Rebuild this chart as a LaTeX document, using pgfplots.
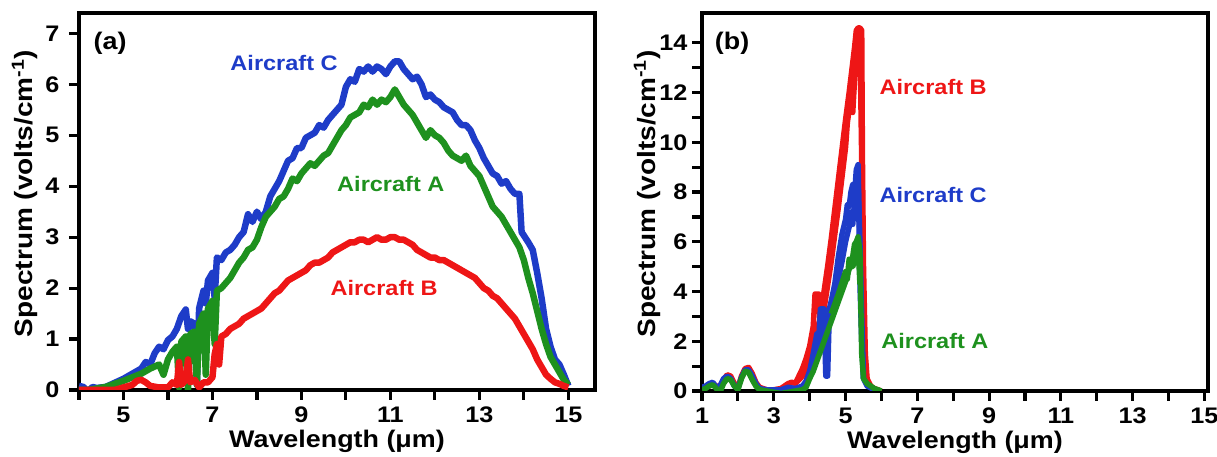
\documentclass[border=0pt]{standalone}
\usepackage{pgfplots}
\pgfplotsset{compat=1.18}
\usepackage{fontspec}
\setmainfont{Liberation Sans}[FakeStretch=1.12]

\definecolor{blueC}{RGB}{30,60,200}
\definecolor{greenA}{RGB}{30,145,30}
\definecolor{redB}{RGB}{238,22,22}

\tikzset{lab/.style={font=\fontsize{21}{21}\selectfont\bfseries},
  panel/.style={font=\fontsize{24}{24}\selectfont\bfseries}}
\pgfplotsset{
  spec/.style={
    scale only axis,
    axis line style={line width=3.6pt, line join=miter},
    tick align=outside,
    xtick pos=left, ytick pos=left,
    major tick length=10pt, minor tick length=10pt,
    every tick/.style={black, line width=3.2pt},
    /pgf/number format/assume math mode=true,
    tick label style={font=\fontsize{22.5}{22.5}\selectfont\bfseries},
    xlabel style={font=\fontsize{24}{24}\selectfont\bfseries,
      at={(axis description cs:0.5,0)}, anchor=base, yshift=-58pt},
    ylabel style={font=\fontsize{25}{25}\selectfont\bfseries,
      at={(axis description cs:0,0.5)}, anchor=base, yshift=46pt, xshift=8pt},
    xlabel={Wavelength (μm)},
    ylabel={Spectrum (volts/cm\textsuperscript{-1})},
    clip=true,
  },
  trace/.style={line width=6.5pt, line join=round, mark=none},
  traceb/.style={line width=5.5pt, line join=round, mark=none},
}

\begin{document}
\begin{tikzpicture}[x=1pt,y=1pt]
\path[use as bounding box] (0,0) rectangle (1217,457);

% ---------------- panel (a)
\begin{axis}[spec,
  at={(79pt,67pt)}, anchor=south west,
  width=516pt, height=377pt,
  xmin=4, xmax=15.6, ymin=0, ymax=7.4,
  xtick={5,7,...,15}, minor xtick={4,6,...,14},
  ytick={0,1,...,7},
  yticklabel style={xshift=-6pt},
  xticklabel style={yshift=-3pt},
]
% Aircraft C
\addplot[trace, blueC] coordinates {
(4.0,0.08) (4.1,0.06) (4.2,-0.04) (4.3,0.06) (4.4,0.04) (4.6,0.06) (4.8,0.14)
(5.0,0.22) (5.2,0.32) (5.4,0.42) (5.5,0.55) (5.6,0.5) (5.7,0.72) (5.8,0.85)
(5.9,0.8) (6.0,0.98) (6.1,1.05) (6.2,1.2) (6.3,1.45) (6.4,1.58) (6.45,1.2)
(6.5,1.35) (6.6,1.3) (6.65,0.1) (6.7,1.6) (6.8,1.95) (6.85,1.7) (6.9,2.15)
(7.0,2.3) (7.05,1.8) (7.1,2.6) (7.2,2.55) (7.3,2.7) (7.4,2.75) (7.5,2.85)
(7.6,3.0) (7.7,3.1) (7.8,3.45) (7.9,3.3) (8.0,3.5) (8.1,3.35) (8.2,3.5)
(8.3,3.8) (8.4,3.95) (8.5,4.1) (8.6,4.3) (8.7,4.5) (8.8,4.55) (8.9,4.75)
(9.0,4.75) (9.1,4.95) (9.2,5.0) (9.3,5.05) (9.4,5.2) (9.5,5.15) (9.6,5.3)
(9.7,5.4) (9.8,5.5) (9.9,5.6) (10.0,5.95) (10.1,6.1) (10.2,6.05) (10.3,6.3)
(10.4,6.25) (10.5,6.35) (10.6,6.25) (10.7,6.35) (10.8,6.3) (10.9,6.2)
(11.0,6.35) (11.1,6.45) (11.2,6.45) (11.3,6.3) (11.4,6.2) (11.5,6.1)
(11.6,6.15) (11.7,6.0) (11.8,5.75) (11.9,5.8) (12.0,5.7) (12.1,5.65)
(12.2,5.55) (12.3,5.5) (12.4,5.45) (12.5,5.3) (12.6,5.2) (12.7,5.2)
(12.8,5.1) (12.9,4.9) (13.0,4.75) (13.1,4.55) (13.2,4.4) (13.3,4.25)
(13.4,4.2) (13.5,4.05) (13.6,4.1) (13.7,3.95) (13.8,3.85) (13.9,3.85)
(13.95,3.1) (14.1,2.9) (14.2,2.75) (14.3,2.3) (14.4,1.8) (14.5,1.2)
(14.6,0.85) (14.7,0.6) (14.8,0.5) (14.9,0.3) (15.0,0.08)
};
% Aircraft A
\addplot[trace, greenA] coordinates {
(4.0,0.0) (4.2,0.0) (4.4,0.03) (4.6,0.06) (4.8,0.12) (5.0,0.18) (5.2,0.25)
(5.4,0.32) (5.6,0.42) (5.8,0.5) (5.9,0.3) (6.0,0.6) (6.1,0.75) (6.2,0.85)
(6.25,0.05) (6.3,0.95) (6.4,1.05) (6.45,0.0) (6.5,1.1) (6.6,1.15) (6.65,0.1)
(6.7,1.3) (6.8,1.5) (6.85,0.3) (6.9,1.6) (7.0,1.75) (7.05,0.9) (7.1,1.95)
(7.2,2.0) (7.3,2.1) (7.4,2.2) (7.5,2.35) (7.6,2.5) (7.7,2.6) (7.8,2.75)
(7.9,2.8) (8.0,2.95) (8.1,3.2) (8.2,3.4) (8.3,3.5) (8.4,3.6) (8.5,3.75)
(8.6,3.8) (8.7,3.95) (8.8,4.15) (8.9,4.1) (9.0,4.25) (9.1,4.35) (9.2,4.45)
(9.3,4.4) (9.4,4.5) (9.5,4.6) (9.6,4.65) (9.7,4.8) (9.8,4.95) (9.9,5.1)
(10.0,5.2) (10.1,5.35) (10.2,5.4) (10.3,5.45) (10.4,5.6) (10.5,5.55)
(10.6,5.7) (10.7,5.6) (10.8,5.7) (10.9,5.65) (11.0,5.75) (11.1,5.9)
(11.2,5.75) (11.3,5.6) (11.4,5.5) (11.5,5.4) (11.6,5.25) (11.7,5.1)
(11.8,4.95) (11.9,5.1) (12.0,5.0) (12.1,4.95) (12.2,4.85) (12.3,4.7)
(12.4,4.6) (12.5,4.55) (12.6,4.5) (12.7,4.6) (12.8,4.4) (12.9,4.3)
(13.0,4.2) (13.1,4.0) (13.2,3.8) (13.3,3.6) (13.4,3.5) (13.5,3.4)
(13.6,3.25) (13.7,3.1) (13.8,2.95) (13.9,2.8) (14.0,2.55) (14.1,2.2)
(14.2,1.9) (14.3,1.55) (14.4,1.2) (14.5,0.9) (14.6,0.65) (14.7,0.5)
(14.8,0.35) (14.9,0.2) (15.0,0.1)
};
% Aircraft B
\addplot[trace, redB] coordinates {
(4.0,0.0) (4.4,0.0) (4.8,0.0) (5.0,0.05) (5.2,0.1) (5.3,0.18) (5.4,0.2)
(5.5,0.15) (5.6,0.08) (5.8,0.05) (6.0,0.05) (6.1,0.15) (6.2,0.1) (6.25,0.55)
(6.3,0.1) (6.4,0.2) (6.45,0.6) (6.5,0.15) (6.6,0.2) (6.7,0.05) (6.8,0.15)
(6.9,0.15) (7.0,0.25) (7.05,0.7) (7.1,0.9) (7.15,0.5) (7.2,1.05) (7.3,1.1)
(7.4,1.2) (7.5,1.25) (7.6,1.3) (7.7,1.4) (7.8,1.45) (7.9,1.5) (8.0,1.55)
(8.1,1.6) (8.2,1.7) (8.3,1.8) (8.4,1.9) (8.5,1.95) (8.6,2.05) (8.7,2.15)
(8.8,2.2) (8.9,2.25) (9.0,2.3) (9.1,2.35) (9.2,2.45) (9.3,2.5) (9.4,2.5)
(9.5,2.55) (9.6,2.6) (9.7,2.7) (9.8,2.75) (9.9,2.8) (10.0,2.85) (10.1,2.9)
(10.2,2.9) (10.3,2.95) (10.4,2.95) (10.5,2.9) (10.6,2.95) (10.7,3.0)
(10.8,2.95) (10.9,2.95) (11.0,3.0) (11.1,3.0) (11.2,2.95) (11.3,2.95)
(11.4,2.9) (11.5,2.85) (11.6,2.75) (11.7,2.7) (11.8,2.65) (11.9,2.6)
(12.0,2.6) (12.1,2.55) (12.2,2.55) (12.3,2.5) (12.4,2.45) (12.5,2.4)
(12.6,2.35) (12.7,2.3) (12.8,2.25) (12.9,2.2) (13.0,2.1) (13.1,2.0)
(13.2,1.95) (13.3,1.85) (13.4,1.8) (13.5,1.7) (13.6,1.6) (13.7,1.5)
(13.8,1.4) (13.9,1.25) (14.0,1.1) (14.1,0.95) (14.2,0.8) (14.3,0.6)
(14.4,0.45) (14.5,0.3) (14.6,0.22) (14.7,0.15) (14.8,0.12) (14.9,0.08)
(15.0,0.05)
};
\node[panel] at (axis cs:4.70,6.81) {(a)};
\node[lab, blueC] at (axis cs:8.61,6.42) {Aircraft C};
\node[lab, greenA] at (axis cs:11.01,4.04) {Aircraft A};
\node[lab, redB] at (axis cs:10.86,2.00) {Aircraft B};
\end{axis}

% ---------------- panel (b)
\begin{axis}[spec,
  at={(702pt,66pt)}, anchor=south west,
  width=506pt, height=378pt,
  xmin=1, xmax=15.1, ymin=0, ymax=15.2,
  xtick={1,3,...,15}, minor xtick={2,4,...,14},
  ytick={0,2,...,14}, minor ytick={1,3,...,13},
  yticklabel style={xshift=-1pt},
  xticklabel style={yshift=-3pt},
  ylabel style={yshift=1pt},
]
% Aircraft B
\addplot[traceb, redB] coordinates {
(1.0,0.1) (1.1,0.15) (1.2,0.2) (1.3,0.3) (1.4,0.2) (1.5,0.15) (1.6,0.45)
(1.7,0.65) (1.8,0.6) (1.9,0.3) (2.0,0.1) (2.1,0.6) (2.2,0.9) (2.3,0.95)
(2.4,0.7) (2.5,0.35) (2.6,0.15) (2.8,0.05) (3.0,0.05) (3.2,0.1) (3.3,0.2)
(3.4,0.3) (3.5,0.35) (3.6,0.3) (3.7,0.6) (3.8,0.9) (3.9,1.3) (4.0,1.8)
(4.1,2.6) (4.15,3.9) (4.25,3.9) (4.3,2.6) (4.4,4.0) (4.5,5.0) (4.6,6.1)
(4.7,7.3) (4.8,8.5) (4.9,9.7) (5.0,10.9) (5.1,12.0) (5.2,13.2) (5.25,13.8)
(5.3,14.5) (5.35,14.6) (5.4,14.6) (5.45,14.5) (5.47,9.4) (5.5,5.0)
(5.55,1.5) (5.6,0.5) (5.7,0.2) (5.8,0.1) (5.9,0.05) (6.0,0.0)
};
\addplot[traceb, redB] coordinates {
(3.6,0.3) (3.8,0.6) (4.0,1.2) (4.2,2.5) (4.4,3.3) (4.6,5.2) (4.8,7.4)
(5.0,9.8) (5.05,10.8) (5.1,11.3) (5.15,11.8) (5.2,11.2) (5.25,12.5)
(5.3,13.6) (5.35,13.0) (5.4,14.4) (5.45,9.3) (5.5,2.0) (5.6,0.3) (5.8,0.05)
};
% Aircraft C
\addplot[traceb, blueC] coordinates {
(1.0,0.15) (1.1,0.2) (1.2,0.3) (1.3,0.35) (1.4,0.15) (1.5,0.2) (1.6,0.5)
(1.7,0.6) (1.8,0.5) (1.9,0.2) (2.0,0.1) (2.1,0.55) (2.2,0.85) (2.3,0.85)
(2.4,0.6) (2.5,0.3) (2.6,0.1) (2.8,0.05) (3.0,0.05) (3.2,0.05) (3.4,0.15)
(3.6,0.1) (3.8,0.2) (3.9,0.4) (4.0,0.8) (4.1,1.5) (4.2,2.3) (4.25,2.0)
(4.3,3.3) (4.4,3.3) (4.45,0.6) (4.5,0.6) (4.55,3.3) (4.6,3.6) (4.7,4.3)
(4.8,5.4) (4.9,6.3) (5.0,6.9) (5.05,7.5) (5.1,7.4) (5.15,8.0) (5.2,8.3)
(5.25,7.9) (5.3,8.9) (5.35,9.1) (5.4,4.4) (5.45,2.0) (5.5,0.5) (5.6,0.2)
(5.8,0.05)
};
\addplot[traceb, blueC] coordinates {
(3.9,0.3) (4.1,1.0) (4.3,2.0) (4.5,2.5) (4.7,3.8) (4.9,5.2) (5.0,6.0)
(5.1,6.6) (5.15,7.2) (5.2,6.7) (5.25,7.6) (5.3,8.0) (5.35,8.5) (5.4,6.0)
(5.45,3.0) (5.5,0.5)
};
% Aircraft A
\addplot[traceb, greenA] coordinates {
(1.0,0.05) (1.1,0.1) (1.2,0.2) (1.3,0.25) (1.4,0.1) (1.5,-0.05) (1.6,0.3)
(1.7,0.5) (1.8,0.45) (1.9,0.2) (2.0,0.05) (2.1,0.5) (2.2,0.8) (2.3,0.75)
(2.4,0.45) (2.5,0.2) (2.6,0.05) (2.8,0.0) (3.0,-0.05) (3.2,-0.1) (3.4,-0.05)
(3.6,0.0) (3.8,0.05) (3.9,0.15) (4.0,0.5) (4.1,0.8) (4.2,1.2) (4.3,1.6)
(4.4,2.0) (4.5,2.4) (4.6,2.8) (4.7,3.2) (4.8,3.6) (4.9,4.0) (5.0,4.4)
(5.1,4.9) (5.2,5.4) (5.25,5.9) (5.3,6.0) (5.35,6.2) (5.4,5.6) (5.45,1.5)
(5.5,0.5) (5.6,0.3) (5.7,0.2) (5.8,0.1) (5.9,0.05) (6.0,0.0)
};
\addplot[traceb, greenA] coordinates {
(4.6,3.1) (4.8,3.9) (5.0,4.8) (5.05,4.5) (5.1,5.3) (5.15,5.0) (5.2,5.0)
(5.3,5.4) (5.35,5.9) (5.4,4.3)
};
\node[panel] at (axis cs:1.84,14.0) {(b)};
\node[lab, redB] at (axis cs:7.44,12.22) {Aircraft B};
\node[lab, blueC] at (axis cs:7.44,7.88) {Aircraft C};
\node[lab, greenA] at (axis cs:7.49,2.01) {Aircraft A};
\end{axis}
\end{tikzpicture}
\end{document}
